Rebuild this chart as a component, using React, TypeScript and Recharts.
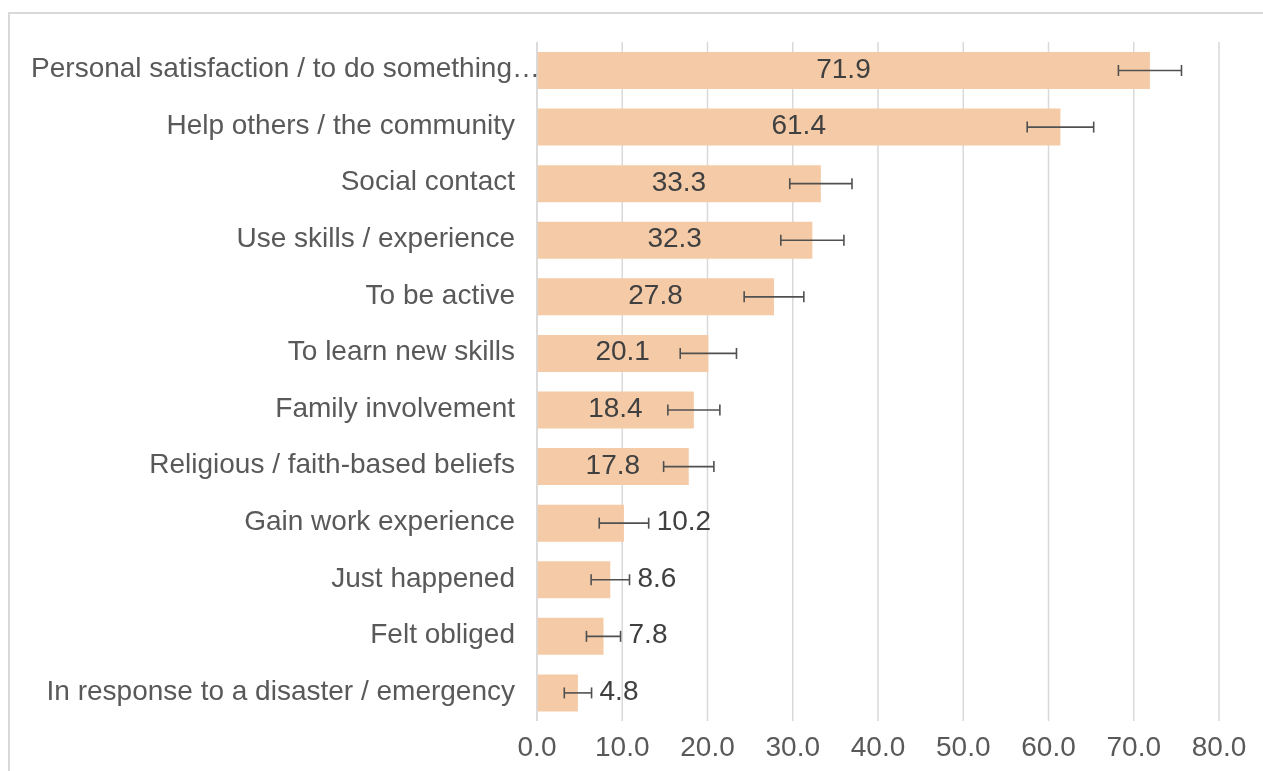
import { Bar, BarChart, CartesianGrid, ErrorBar, LabelList, XAxis, YAxis } from 'recharts';

const categories = [
  'Personal satisfaction / to do something…',
  'Help others / the community',
  'Social contact',
  'Use skills / experience',
  'To be active',
  'To learn new skills',
  'Family involvement',
  'Religious / faith-based beliefs',
  'Gain work experience',
  'Just happened',
  'Felt obliged',
  'In response to a disaster / emergency',
];
const values = [71.9, 61.4, 33.3, 32.3, 27.8, 20.1, 18.4, 17.8, 10.2, 8.6, 7.8, 4.8];
const errors = [3.7, 3.9, 3.65, 3.7, 3.5, 3.3, 3.05, 2.95, 2.9, 2.25, 2.0, 1.6];
const xTicks = [0, 10, 20, 30, 40, 50, 60, 70, 80];

const rows = categories.map((name, i) => ({ name, value: values[i], err: errors[i] }));

const FONT = '"Liberation Sans", Arial, Helvetica, sans-serif';

function CatTick({ x, y, payload }: any) {
  const long = String(payload.value).endsWith('…');
  return (
    <text x={x + (long ? 25 : 0)} y={y} dy={7} textAnchor="end" fill="#595959" fontSize={28} fontFamily={FONT}>
      {payload.value}
    </text>
  );
}

function ValueLabel(props: any) {
  const { x, y, width, height, value, index } = props;
  const v = Number(value);
  const cy = y + height / 2;
  if (v >= 12) {
    return (
      <text x={x + width / 2} y={cy} dy={7} textAnchor="middle" fill="#404040" fontSize={28} fontFamily={FONT}>
        {v.toFixed(1)}
      </text>
    );
  }
  // small bars: label sits just past the error bar
  const end = x + (width * (v + errors[index])) / v;
  return (
    <text x={end + 8} y={cy} dy={7} textAnchor="start" fill="#404040" fontSize={28} fontFamily={FONT}>
      {v.toFixed(1)}
    </text>
  );
}

export default function App() {
  return (
    <div>
      <style>{'html,body{overflow:hidden}'}</style>
      {/* chart frame runs off the page on the right and bottom */}
      <div
        style={{
          position: 'fixed',
          left: 8,
          top: 12,
          width: 1300,
          height: 800,
          border: '2px solid #d9d9d9',
          boxSizing: 'border-box',
        }}
      />
      <div style={{ position: 'relative' }}>
        <BarChart
          width={1247}
          height={755}
          data={rows}
          layout="vertical"
          barSize={37}
          margin={{ top: 34, right: 36, bottom: 2, left: 0 }}
        >
          <CartesianGrid horizontal={false} stroke="#d9d9d9" strokeWidth={1.5} />
          <XAxis
            type="number"
            domain={[0, 80]}
            ticks={xTicks}
            tickFormatter={(v: number) => v.toFixed(1)}
            axisLine={false}
            tickLine={false}
            tickSize={0}
            tickMargin={15}
            height={40}
            tick={{ fill: '#595959', fontSize: 28, fontFamily: FONT }}
          />
          <YAxis
            type="category"
            dataKey="name"
            width={529}
            interval={0}
            tickLine={false}
            tickSize={0}
            tickMargin={22}
            axisLine={{ stroke: '#d9d9d9', strokeWidth: 1.5 }}
            tick={<CatTick />}
          />
          <Bar dataKey="value" fill="#F5CBA7" isAnimationActive={false}>
            <ErrorBar dataKey="err" direction="x" width={5.5} stroke="#505050" strokeWidth={1.6} />
            <LabelList dataKey="value" content={<ValueLabel />} />
          </Bar>
        </BarChart>
      </div>
    </div>
  );
}
